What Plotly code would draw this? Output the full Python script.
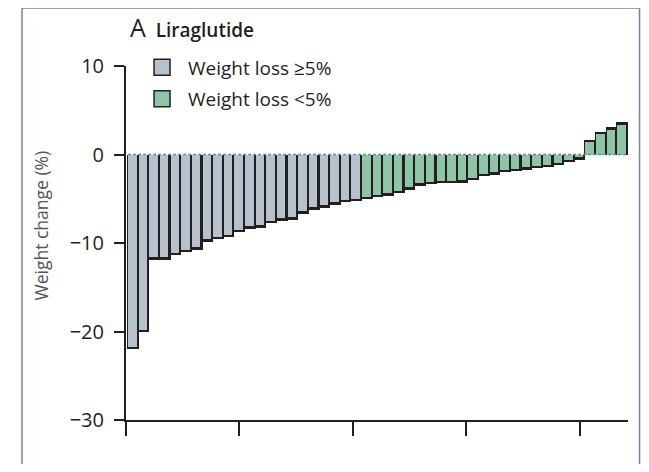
import plotly.graph_objects as go

# Weight change (%) per patient, sorted; two response groups
loss_ge5 = [-21.7, -19.8, -11.6, -11.6, -11.1, -10.8, -10.5, -9.6, -9.3, -9.1,
            -8.5, -8.1, -8.0, -7.5, -7.2, -7.1, -6.4, -5.95, -5.75, -5.4,
            -5.1, -5.0]
loss_lt5 = [-4.75, -4.55, -4.4, -4.1, -3.7, -3.25, -3.1, -3.0, -2.95, -2.9,
            -2.65, -2.2, -2.0, -1.75, -1.6, -1.45, -1.3, -1.15, -0.95, -0.6,
            -0.3, 1.4, 2.3, 2.8, 3.35]
y_ticks = [10, 0, -10, -20, -30]
legend_names = ["Weight loss ≥5%", "Weight loss <5%"]

GRAY = "#b7c1ca"
GREEN = "#8fc4a6"
INK = "#231f20"
FONT = "Open Sans"

values = loss_ge5 + loss_lt5
n = len(values)
xpos = [i + 0.5 for i in range(n)]
x_ge5 = xpos[:len(loss_ge5)]
x_lt5 = xpos[len(loss_ge5):]

fig = go.Figure()
# black "shadow" bars give the right/bottom outline effect
fig.add_trace(go.Bar(x=xpos, y=[v + (0.27 if v > 0 else -0.27) for v in values],
                     width=1.1, offset=-0.6, marker=dict(color=INK, line=dict(width=0)),
                     showlegend=False, hoverinfo="skip"))
fig.add_trace(go.Bar(x=x_ge5, y=loss_ge5, width=0.79, offset=-0.5,
                     marker=dict(color=GRAY, line=dict(width=0)), showlegend=False))
fig.add_trace(go.Bar(x=x_lt5, y=loss_lt5, width=0.79, offset=-0.5,
                     marker=dict(color=GREEN, line=dict(width=0)), showlegend=False))
# legend entries
for k, (name, col) in enumerate(zip(legend_names, [GRAY, GREEN])):
    fig.add_trace(go.Scatter(x=[None], y=[None], mode="markers", name=name,
                             legendgroup=f"g{k}",
                             marker=dict(symbol="square", size=16, color=col,
                                         line=dict(color=INK, width=1.5))))

x_lo, x_hi = -0.2, n
step = 10.66
xt = [x_lo + k * step for k in range(5)]

fig.update_layout(
    width=633, height=456,
    margin=dict(l=118, r=13, t=58, b=44),
    paper_bgcolor="white", plot_bgcolor="white",
    barmode="overlay", bargap=0,
    font=dict(family=FONT, size=18, color=INK),
    showlegend=True,
    legend=dict(x=0.02, y=1.05, xanchor="left", yanchor="top",
                bgcolor="rgba(0,0,0,0)", font=dict(size=19, color=INK),
                itemsizing="trace", itemwidth=42, traceorder="grouped",
                tracegroupgap=4),
    xaxis=dict(range=[x_lo, x_hi], showline=True, linewidth=2, linecolor=INK,
               ticks="outside", ticklen=14, tickwidth=2, tickcolor=INK,
               tickvals=xt, showticklabels=False, showgrid=False, zeroline=False),
    yaxis=dict(range=[-30, 10], tickvals=y_ticks, showline=True, linewidth=2,
               linecolor=INK, ticks="outside", ticklen=10, tickwidth=2, tickcolor=INK,
               showgrid=False, zeroline=False, ticklabelstandoff=6,
               tickfont=dict(size=20, color=INK)),
    shapes=[
        dict(type="line", xref="x", yref="y", x0=0, x1=n, y0=0, y1=0,
             line=dict(color="#5e8f8c", width=1.5, dash="3px,2px"), layer="above"),
        dict(type="rect", xref="paper", yref="paper", x0=-0.207, x1=1.023,
             y0=-0.3, y1=1.164, line=dict(color="#7384a0", width=1.5),
             fillcolor="rgba(0,0,0,0)", layer="below"),
    ],
    annotations=[
        dict(xref="paper", yref="paper", x=0.004, y=1.11, xanchor="left", yanchor="middle",
             text="<span style='font-size:25px;font-weight:400'>A</span>  Liraglutide",
             showarrow=False, font=dict(size=19, color=INK, family=FONT, weight=600)),
        dict(xref="paper", yref="y", x=-0.169, y=-8, xanchor="center", yanchor="middle",
             text="Weight change (%)", textangle=-90, showarrow=False,
             font=dict(size=17.5, color="#555555", family=FONT)),
    ],
)

fig.write_html("out.html")
